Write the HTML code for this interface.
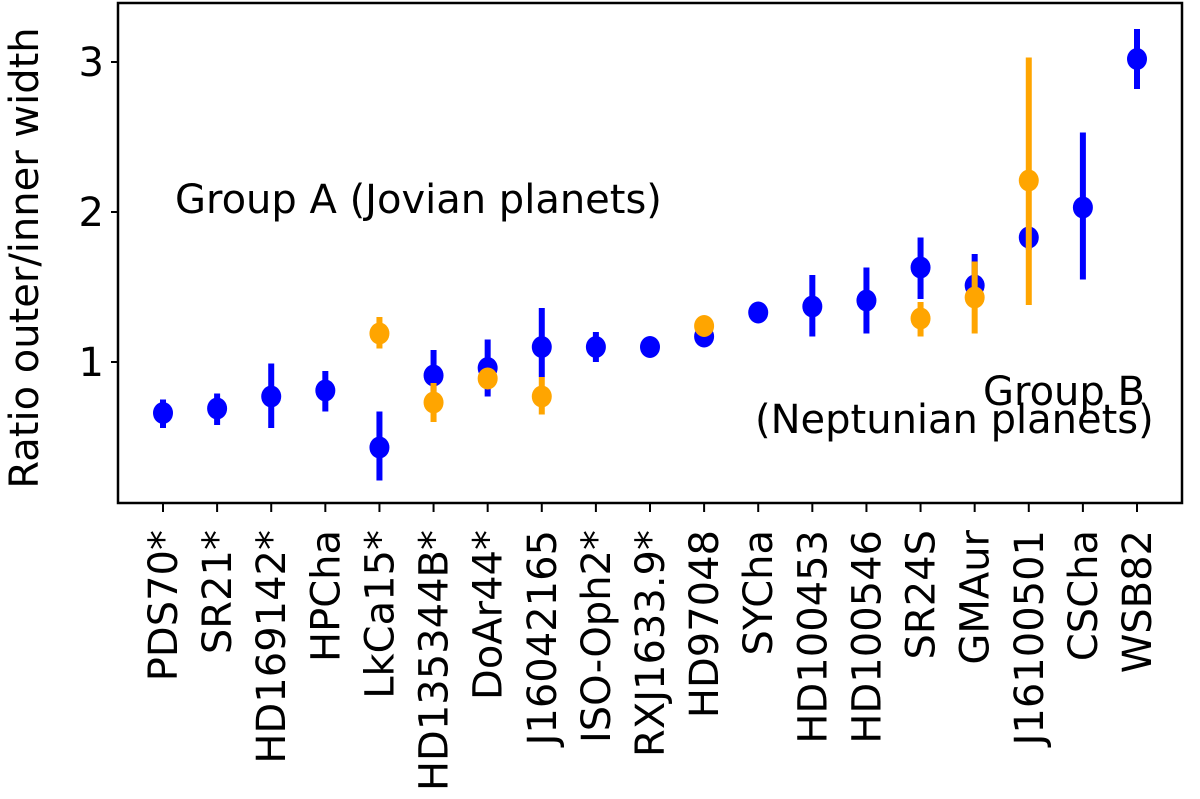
<!DOCTYPE html>
<html><head><meta charset="utf-8"><style>
html,body{margin:0;padding:0;background:#fff;}
svg{display:block;font-family:"DejaVu Sans","Liberation Sans",sans-serif;}
</style></head><body>
<svg id="chart" width="1200" height="799" viewBox="0 0 1200 799" xmlns="http://www.w3.org/2000/svg">
<g id="marks"></g>
<rect x="118" y="3" width="1064" height="500" fill="none" stroke="#000" stroke-width="2.5"/>
<g id="axes"></g>
<text transform="translate(38,258) rotate(-90)" text-anchor="middle" font-size="40">Ratio outer/inner width</text>
<text x="175" y="213" font-size="40">Group A (Jovian planets)</text>
<text x="983" y="405" font-size="40">Group B</text>
<text x="755" y="433" font-size="40">(Neptunian planets)</text>
</svg>
<script>
const categories = ["PDS70*","SR21*","HD169142*","HPCha","LkCa15*","HD135344B*","DoAr44*","J16042165","ISO-Oph2*","RXJ1633.9*","HD97048","SYCha","HD100453","HD100546","SR24S","GMAur","J16100501","CSCha","WSB82"];
const blueVals = [0.66,0.69,0.77,0.81,0.43,0.91,0.96,1.10,1.10,1.10,1.17,1.33,1.37,1.41,1.63,1.51,1.83,2.03,3.02];
const blueLow  = [0.56,0.58,0.56,0.67,0.21,0.75,0.77,0.90,1.00,1.10,1.17,1.33,1.17,1.19,1.42,1.40,1.75,1.55,2.82];
const blueHigh = [0.75,0.79,0.99,0.94,0.67,1.08,1.15,1.36,1.20,1.10,1.17,1.33,1.58,1.63,1.83,1.72,1.90,2.53,3.22];
const orangeIdx  = [4,5,6,7,10,14,15,16];
const orangeVals = [1.19,0.73,0.89,0.77,1.24,1.29,1.43,2.21];
const orangeLow  = [1.09,0.60,0.82,0.65,1.24,1.17,1.19,1.38];
const orangeHigh = [1.30,0.86,0.96,0.90,1.24,1.40,1.67,3.03];
const yTicks = [1,2,3];

const NS="http://www.w3.org/2000/svg";
function xPos(i){return 163 + i*(1137-163)/(categories.length-1);}
function yPos(v){return 512 - 150*v;}
const marks=document.getElementById('marks');
const axes=document.getElementById('axes');
function mk(tag,attrs,parent){const e=document.createElementNS(NS,tag);for(const k in attrs)e.setAttribute(k,attrs[k]);parent.appendChild(e);return e;}
function series(idx,vals,lo,hi,color,name){
  for(let j=0;j<vals.length;j++){
    const x=xPos(idx(j));
    const l=mk('line',{x1:x,x2:x,y1:yPos(lo[j]),y2:yPos(hi[j]),stroke:color,'stroke-width':6},marks);
    
    
    const c=mk('ellipse',{cx:x,cy:yPos(vals[j]),rx:10,ry:11,fill:color},marks);
    
    
  }
}
series(j=>j,blueVals,blueLow,blueHigh,'#0000ff','blue');
series(j=>orangeIdx[j],orangeVals,orangeLow,orangeHigh,'#ffa500','orange');
yTicks.forEach(t=>{
  const y=yPos(t);
  const tk=mk('line',{x1:111,x2:118,y1:y,y2:y,stroke:'#000','stroke-width':2},axes);
  
  
  const tx=mk('text',{x:104,y:y+14,'text-anchor':'end','font-size':40},axes);
  tx.textContent=t;
  
  
});
categories.forEach((c,i)=>{
  const x=xPos(i);
  const tk=mk('line',{x1:x,x2:x,y1:503,y2:512,stroke:'#000','stroke-width':2},axes);
  
  
  const tx=mk('text',{transform:`translate(${x+14},530) rotate(-90)`,'text-anchor':'end','font-size':40},axes);
  tx.textContent=c;
  
  
});
</script>
</body></html>
